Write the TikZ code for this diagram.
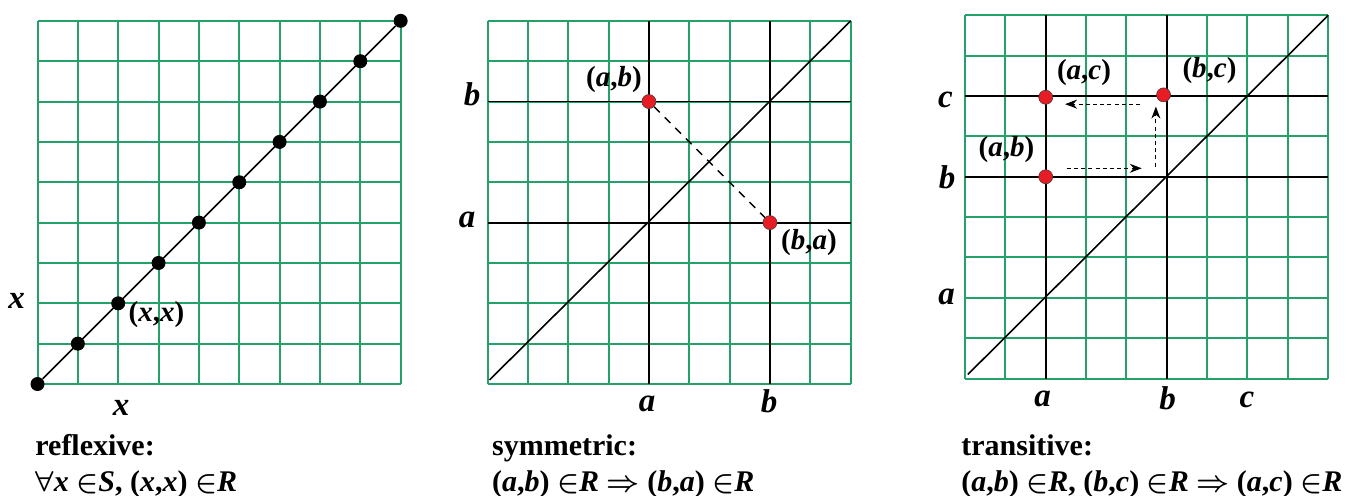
\documentclass[tikz,border=0pt]{standalone}
\usepackage{fontspec}
\setmainfont{Liberation Serif}
\usetikzlibrary{arrows.meta}
\definecolor{gridgreen}{RGB}{36,160,105}
\definecolor{dotred}{RGB}{232,28,36}
\begin{document}
\begin{tikzpicture}[x=0.5pt,y=-0.5pt,
  gridline/.style={gridgreen,line width=1pt},
  axisline/.style={black,line width=0.9pt},
  diag/.style={black,line width=0.8pt},
  bdot/.style={circle,fill=black,inner sep=0pt,minimum size=7pt},
  rdot/.style={circle,fill=dotred,draw=black!75,line width=0.3pt,inner sep=0pt,minimum size=7pt},
  axlbl/.style={font=\fontsize{16.5pt}{19pt}\selectfont\bfseries\itshape,inner sep=0pt},
  pairlbl/.style={font=\fontsize{14.5pt}{17pt}\selectfont\bfseries,inner sep=0pt},
  caption/.style={font=\fontsize{15pt}{18pt}\selectfont\bfseries\boldmath,anchor=base west,inner sep=0pt},
  symdash/.style={black,line width=0.65pt,dash pattern=on 4pt off 3.5pt},
  transarrow/.style={black,line width=0.55pt,dash pattern=on 2pt off 1.6pt,-{Stealth[length=6pt,width=4.5pt]}},
]
\useasboundingbox (0,0) rectangle (1347,495);

% ---------------- reflexive ----------------
\begin{scope}[shift={(37.5,384)},x=20.175pt,y=20.175pt]
  \foreach \i in {0,...,9} {
    \draw[gridline] (\i,0) -- (\i,9);
    \draw[gridline] (0,\i) -- (9,\i);
  }
  \foreach \i in {0,...,9} {\node[bdot] (r\i) at (\i,\i) {};}
  \draw[diag] (r0) -- (r9);
\end{scope}
\node[axlbl] (rxl) at (16.5,301) {x};
\node[axlbl] (rxb) at (121,408) {x};
\node[pairlbl] (rxx) at (156.5,314.5) {(\textit{x},\textit{x})};
\node[caption] (rcap) at (35,455) {reflexive:};
\node[caption] (rform) at (35,491) {$\forall$\textit{x} $\in$\textit{S}, (\textit{x},\textit{x}) $\in$\textit{R}};

% ---------------- symmetric ----------------
\begin{scope}[shift={(487.5,384)},x=20.175pt,y=20.175pt]
  \foreach \i in {0,...,9} {
    \draw[gridline] (\i,0) -- (\i,9);
    \draw[gridline] (0,\i) -- (9,\i);
  }
  \draw[axisline] (4,0) -- (4,9);
  \draw[axisline] (7,0) -- (7,9);
  \draw[axisline] (0,7) -- (9,7);
  \draw[axisline] (0,4) -- (9,4);
  \draw[diag] (0.05,0.1) -- (9,9);
  \node[rdot] (sab) at (4,7) {};
  \node[rdot] (sba) at (7,4) {};
  \draw[symdash] (sab) -- (sba);
\end{scope}
\node[axlbl] (sbl) at (472,94) {b};
\node[axlbl] (sal) at (467,219.5) {a};
\node[axlbl] (sab2) at (647,403.5) {a};
\node[axlbl] (sbb) at (769,401) {b};
\node[pairlbl] (sabl) at (614,80) {(\textit{a},\textit{b})};
\node[pairlbl] (sbal) at (809,242.5) {(\textit{b},\textit{a})};
\node[caption] (scap) at (491.7,455) {symmetric:};
\node[caption] (sform) at (491.7,491) {(\textit{a},\textit{b}) $\in$\textit{R} $\Rightarrow$ (\textit{b},\textit{a}) $\in$\textit{R}};

% ---------------- transitive ----------------
\begin{scope}[shift={(965,378.5)},x=20.175pt,y=20.175pt]
  \foreach \i in {0,...,9} {
    \draw[gridline] (\i,0) -- (\i,9);
    \draw[gridline] (0,\i) -- (9,\i);
  }
  \draw[axisline] (2,0) -- (2,9);
  \draw[axisline] (5,0) -- (5,9);
  \draw[axisline] (0,7) -- (9,7);
  \draw[axisline] (0,5) -- (9,5);
  \draw[diag] (0.07,0.1) -- (9,9);
  \node[rdot] (tab) at (2,5) {};
  \node[rdot] (tac) at (2,6.97) {};
  \node[rdot] (tbc) at (4.92,7.03) {};
  \coordinate (h1s) at (2.52,5.21);
  \coordinate (h1e) at (4.38,5.21);
  \coordinate (v1s) at (4.73,5.25);
  \coordinate (v1e) at (4.73,6.74);
  \coordinate (h2s) at (4.34,6.80);
  \coordinate (h2e) at (2.48,6.80);
  \draw[transarrow] (h1s) -- (h1e);
  \draw[transarrow] (v1s) -- (v1e);
  \draw[transarrow] (h2s) -- (h2e);
\end{scope}
\node[axlbl] (tcl) at (945.5,99.5) {c};
\node[axlbl] (tbl) at (947,177.5) {b};
\node[axlbl] (tal) at (946.5,296.5) {a};
\node[axlbl] (tab2) at (1042.5,398.5) {a};
\node[axlbl] (tbb) at (1167.5,398) {b};
\node[axlbl] (tcb) at (1247,399.5) {c};
\node[pairlbl] (tacl) at (1084,72.5) {(\textit{a},\textit{c})};
\node[pairlbl] (tbcl) at (1209.5,71) {(\textit{b},\textit{c})};
\node[pairlbl] (tabl) at (1006.5,150) {(\textit{a},\textit{b})};
\node[caption] (tcap) at (961,455) {transitive:};
\node[caption] (tform) at (961,491) {(\textit{a},\textit{b}) $\in$\textit{R}, (\textit{b},\textit{c}) $\in$\textit{R} $\Rightarrow$ (\textit{a},\textit{c}) $\in$\textit{R}};
\end{tikzpicture}
\end{document}
